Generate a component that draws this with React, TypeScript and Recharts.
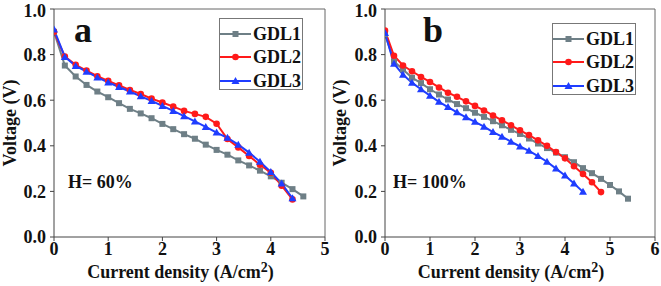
import React from 'react';
import { LineChart, Line, XAxis, YAxis, ReferenceLine } from 'recharts';

// Current density steps (A/cm2), shared by all series
const currentSteps = [0, 0.2, 0.4, 0.6, 0.8, 1.0, 1.2, 1.4, 1.6, 1.8, 2.0, 2.2, 2.4, 2.6, 2.8, 3.0, 3.2, 3.4, 3.6, 3.8, 4.0, 4.2, 4.4, 4.6, 4.8, 5.0, 5.2, 5.4];

// Panel a, H = 60%
const a_gdl1 = [0.9, 0.752, 0.704, 0.667, 0.638, 0.613, 0.587, 0.562, 0.542, 0.521, 0.496, 0.473, 0.451, 0.431, 0.405, 0.382, 0.361, 0.336, 0.314, 0.291, 0.266, 0.238, 0.21, 0.178];
const a_gdl2 = [0.9, 0.791, 0.755, 0.73, 0.705, 0.685, 0.665, 0.645, 0.627, 0.607, 0.59, 0.572, 0.553, 0.54, 0.527, 0.497, 0.43, 0.393, 0.355, 0.317, 0.282, 0.225, 0.165];
const a_gdl3 = [0.91, 0.79, 0.75, 0.725, 0.7, 0.678, 0.658, 0.638, 0.617, 0.597, 0.575, 0.553, 0.53, 0.507, 0.483, 0.458, 0.435, 0.405, 0.37, 0.33, 0.285, 0.235, 0.17];

// Panel b, H = 100%
const b_gdl1 = [0.89, 0.77, 0.735, 0.699, 0.675, 0.648, 0.625, 0.603, 0.583, 0.565, 0.545, 0.527, 0.508, 0.49, 0.47, 0.452, 0.432, 0.41, 0.39, 0.37, 0.35, 0.328, 0.302, 0.28, 0.255, 0.228, 0.2, 0.168];
const b_gdl2 = [0.905, 0.795, 0.752, 0.727, 0.702, 0.68, 0.656, 0.633, 0.615, 0.595, 0.575, 0.555, 0.533, 0.512, 0.49, 0.468, 0.447, 0.424, 0.4, 0.373, 0.345, 0.31, 0.276, 0.24, 0.197];
const b_gdl3 = [0.895, 0.76, 0.712, 0.677, 0.648, 0.62, 0.593, 0.57, 0.547, 0.525, 0.505, 0.484, 0.46, 0.44, 0.418, 0.397, 0.378, 0.355, 0.33, 0.3, 0.27, 0.235, 0.198];

const seriesNames = ['GDL1', 'GDL2', 'GDL3'];
const voltageTicks = [0, 0.2, 0.4, 0.6, 0.8, 1.0];
const ticksA = [0, 1, 2, 3, 4, 5];
const ticksB = [0, 1, 2, 3, 4, 5, 6];

const COLORS = ['#6e7f86', '#ff1a1a', '#1f3dff'];
const FONT = '"Liberation Serif", "Times New Roman", serif';
const AXIS = '#444';

const toPoints = (volts: number[]) => volts.map((v, i) => ({ x: currentSteps[i], v }));

const Square = (props: any) => {
  const { cx, cy, stroke } = props;
  if (cx == null || cy == null) return null;
  return <rect x={cx - 3} y={cy - 3} width={6} height={6} fill={stroke} />;
};
const Circle = (props: any) => {
  const { cx, cy, stroke } = props;
  if (cx == null || cy == null) return null;
  return <circle cx={cx} cy={cy} r={3.3} fill={stroke} />;
};
const Triangle = (props: any) => {
  const { cx, cy, stroke } = props;
  if (cx == null || cy == null) return null;
  return <polygon points={`${cx},${cy - 4} ${cx - 4},${cy + 3} ${cx + 4},${cy + 3}`} fill={stroke} />;
};
const MARKERS = [Square, Circle, Triangle];

const LegendBox = ({ left, top }: { left: number; top: number }) => (
  <div style={{ position: 'absolute', left, top, border: '1px solid #777', width: 84, height: 72, boxSizing: 'border-box', background: '#fff', paddingTop: 3 }}>
    {seriesNames.map((name, i) => {
      const M = MARKERS[i];
      return (
        <div key={name} style={{ display: 'flex', alignItems: 'center', height: 23.5 }}>
          <svg width={31} height={10} style={{ display: 'block' }}>
            <line x1={0} y1={5} x2={31} y2={5} stroke={COLORS[i]} strokeWidth={2} />
            <M cx={15.5} cy={5} stroke={COLORS[i]} />
          </svg>
          <span style={{ fontFamily: FONT, fontWeight: 'bold', fontSize: 18, color: '#111', marginLeft: 2, lineHeight: 1 }}>{name}</span>
        </div>
      );
    })}
  </div>
);

const XTitle = (props: any) => {
  const { viewBox } = props;
  const cx = viewBox.x + viewBox.width / 2 - 9;
  return (
    <text x={cx} y={viewBox.y + 41} textAnchor="middle" fontFamily={FONT} fontWeight="bold" fontSize={18} fill="#111">
      Current density (A/cm<tspan dy={-6} fontSize={14}>2</tspan><tspan dy={6}>)</tspan>
    </text>
  );
};

const YTitle = (props: any) => {
  const { viewBox } = props;
  const cy = viewBox.y + viewBox.height / 2;
  return (
    <text x={16} y={cy} transform={`rotate(-90, 16, ${cy})`} textAnchor="middle" fontFamily={FONT} fontWeight="bold" fontSize={18} fill="#111">
      Voltage (V)
    </text>
  );
};

interface PanelProps {
  series: number[][];
  xMax: number;
  xTicks: number[];
  width: number;
  legendLeft: number;
  legendTop: number;
  letter: string;
  letterLeft: number;
  humidity: string;
  humLeft: number;
}

const Panel: React.FC<PanelProps> = ({ series, xMax, xTicks, width, legendLeft, legendTop, letter, letterLeft, humidity, humLeft }) => (
  <div style={{ position: 'relative', width, height: 286 }}>
    <LineChart width={width} height={286} margin={{ top: 9, right: width === 330 ? 5 : 6, bottom: 0, left: 0 }}>
      <XAxis
        type="number"
        dataKey="x"
        domain={[0, xMax]}
        ticks={xTicks}
        allowDataOverflow
        height={49}
        stroke={AXIS}
        tickSize={4}
        tickMargin={1}
        tick={{ fontFamily: FONT, fontWeight: 'bold', fontSize: 18, fill: '#111' }}
        label={<XTitle />}
      />
      <YAxis
        type="number"
        dataKey="v"
        domain={[0, 1]}
        ticks={voltageTicks}
        width={width === 330 ? 54 : 55}
        stroke={AXIS}
        tickSize={4}
        tickMargin={4}
        tickFormatter={(t: number) => t.toFixed(1)}
        tick={{ fontFamily: FONT, fontWeight: 'bold', fontSize: 18, fill: '#111' }}
        label={<YTitle />}
      />
      <ReferenceLine y={1} stroke="#666" strokeWidth={1} />
      <ReferenceLine x={xMax} stroke="#666" strokeWidth={1} />
      {series.map((s, i) => (
        <Line
          key={seriesNames[i]}
          data={toPoints(s)}
          dataKey="v"
          name={seriesNames[i]}
          stroke={COLORS[i]}
          strokeWidth={2}
          dot={MARKERS[i]}
          activeDot={false}
          isAnimationActive={false}
        />
      ))}
    </LineChart>
    <LegendBox left={legendLeft} top={legendTop} />
    <div style={{ position: 'absolute', left: letterLeft, top: 12, fontFamily: FONT, fontWeight: 'bold', fontSize: 36, color: '#111', lineHeight: 1 }}>{letter}</div>
    <div style={{ position: 'absolute', left: humLeft, top: 173, fontFamily: FONT, fontWeight: 'bold', fontSize: 18, color: '#111', lineHeight: 1 }}>{humidity}</div>
  </div>
);

export default function App() {
  return (
    <div style={{ position: 'absolute', left: 0, top: 0, width: 661, height: 286, background: '#fff', display: 'flex' }}>
      <Panel series={[a_gdl1, a_gdl2, a_gdl3]} xMax={5} xTicks={ticksA} width={330} legendLeft={219} legendTop={18} letter="a" letterLeft={74} humidity="H= 60%" humLeft={68} />
      <Panel series={[b_gdl1, b_gdl2, b_gdl3]} xMax={6} xTicks={ticksB} width={331} legendLeft={222} legendTop={23} letter="b" letterLeft={93} humidity="H= 100%" humLeft={63} />
    </div>
  );
}
